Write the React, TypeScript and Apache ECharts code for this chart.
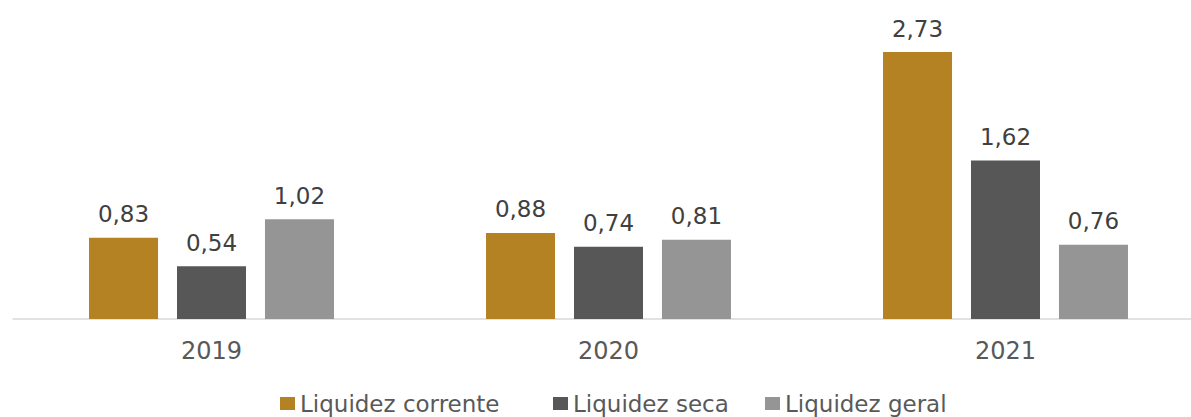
import React, { useEffect, useRef } from "react";
import * as echarts from "echarts";

const categories = ["2019", "2020", "2021"];
const seriesNames = ["Liquidez corrente", "Liquidez seca", "Liquidez geral"];
const liquidezCorrente = [0.83, 0.88, 2.73];
const liquidezSeca = [0.54, 0.74, 1.62];
const liquidezGeral = [1.02, 0.81, 0.76];

const FONT = "'DejaVu Sans', sans-serif";
const colors = ["#B48222", "#575757", "#959595"];
const legendLeft = [280, 553, 765];

export default function App() {
  const ref = useRef<HTMLDivElement>(null);
  useEffect(() => {
    const chart = echarts.init(ref.current!, null, { renderer: "svg" });
    const label = {
      show: true,
      position: "top",
      distance: 12,
      color: "#404040",
      fontSize: 23,
      fontFamily: FONT,
      formatter: (p: any) => p.value.toFixed(2).replace(".", ","),
    };
    const values = [liquidezCorrente, liquidezSeca, liquidezGeral];
    chart.setOption({
      animation: false,
      grid: { left: 13, right: 0, top: 25.6, bottom: 98, containLabel: false },
      legend: seriesNames.map((n, i) => ({
        top: 387,
        left: legendLeft[i],
        padding: [5, 0, 5, 0],
        itemWidth: 15,
        itemHeight: 13,
        itemGap: 0,
        icon: "rect",
        textStyle: { fontSize: 23, fontFamily: FONT, color: "#595959", padding: [0, 0, 0, 0] },
        data: [n],
      })),
      xAxis: {
        type: "category",
        data: categories,
        axisLine: { lineStyle: { color: "#d9d9d9", width: 1.5 } },
        axisTick: { show: false },
        axisLabel: { color: "#595959", fontSize: 24, fontFamily: FONT, margin: 20 },
      },
      yAxis: { type: "value", min: 0, max: 3, show: false, splitLine: { show: false } },
      series: seriesNames.map((n, i) => ({
        name: n,
        type: "bar",
        data: values[i],
        barWidth: 69,
        barGap: "27.5%",
        itemStyle: { color: colors[i] },
        label,
      })),
    });
    return () => chart.dispose();
  }, []);
  return (
    <div style={{ position: "absolute", left: 0, top: 0, width: 1191, height: 417, overflow: "hidden" }}>
      <div ref={ref} style={{ position: "absolute", left: 0, top: 0, width: 1204, height: 417 }} />
    </div>
  );
}
